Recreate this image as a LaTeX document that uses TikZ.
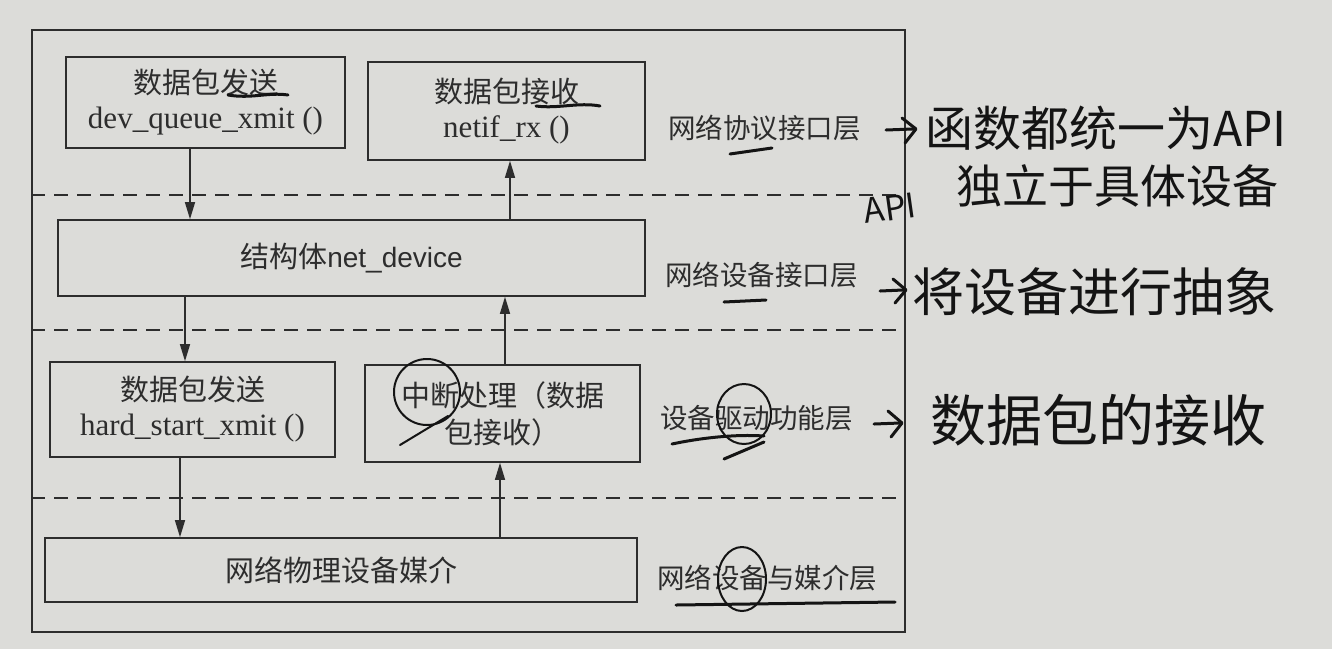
\documentclass[tikz,border=0pt]{standalone}
\usepackage{fontspec}
\setmainfont{Liberation Serif}
\newfontfamily\cjk{Noto Sans CJK SC}
\newfontfamily\latinsans{Liberation Sans}
\usetikzlibrary{arrows.meta}
\definecolor{paper}{RGB}{220,220,217}
\definecolor{ink}{RGB}{45,45,45}
\definecolor{pencol}{RGB}{20,20,20}
\begin{document}
\begin{tikzpicture}[x=1pt,y=-1pt,
  box/.style={draw=ink,line width=1.6pt,rectangle,inner sep=0pt,align=center,text=ink,
              font=\fontsize{31}{37}\selectfont},
  framebox/.style={draw=ink,line width=1.6pt,rectangle,inner sep=0pt},
  arr/.style={draw=ink,line width=1.4pt,-{Triangle[length=17pt,width=10pt]}},
  sep/.style={draw=ink,line width=1.6pt,dash pattern=on 14pt off 9pt},
  layer/.style={anchor=west,text=ink,inner sep=0pt,font=\cjk\fontsize{27.5}{32}\selectfont},
  pen/.style={draw=pencol,line width=3pt,line cap=round,line join=round},
  note/.style={text=pencol,inner sep=0pt,font=\cjk\fontsize{48}{56}\selectfont}]
\useasboundingbox (0,0) rectangle (1332,649);
\fill[paper] (0,0) rectangle (1332,649);

% outer frame
\node[framebox,minimum width=873,minimum height=602] (fr) at (468.5,331) {};

% protocol interface layer
\node[box,minimum width=279,minimum height=91] (tx1) at (205.5,102.5)
  {{\cjk\fontsize{29}{34}\selectfont 数据包发送}\\[-2pt]dev\_queue\_xmit ()};
\node[box,minimum width=277,minimum height=98] (rx1) at (506.5,111)
  {{\cjk\fontsize{29}{34}\selectfont 数据包接收}\\[-2pt]netif\_rx ()};

% device interface layer
\node[box,minimum width=587,minimum height=76] (nd) at (351.5,258)
  {{\cjk\fontsize{29}{34}\selectfont 结构体}\latinsans\fontsize{28}{32}\selectfont net\_device};

% driver layer
\node[box,minimum width=285,minimum height=95] (tx2) at (192.5,409.5)
  {{\cjk\fontsize{29}{34}\selectfont 数据包发送}\\[-2pt]hard\_start\_xmit ()};
\node[box,minimum width=275,minimum height=97,font=\cjk\fontsize{29}{37}\selectfont] (rx2) at (502.5,413.5)
  {中断处理（数据\\包接收）};

% media layer
\node[box,minimum width=592,minimum height=64,font=\cjk\fontsize{29}{34}\selectfont] (med) at (341,570)
  {网络物理设备媒介};

% layer separators
\coordinate (s1) at (0,195);
\coordinate (s2) at (0,330);
\coordinate (s3) at (0,498);
\draw[sep] (fr.west |- s1) -- (fr.east |- s1);
\draw[sep] (fr.west |- s2) -- (fr.east |- s2);
\draw[sep] (fr.west |- s3) -- (fr.east |- s3);

% data flow
\coordinate (d1) at (190,0);
\coordinate (d2) at (185,0);
\coordinate (d3) at (180,0);
\coordinate (u1) at (510,0);
\coordinate (u2) at (505,0);
\coordinate (u3) at (500,0);
\draw[arr] (tx1.south -| d1) -- (nd.north -| d1);
\draw[arr] (nd.south -| d2) -- (tx2.north -| d2);
\draw[arr] (tx2.south -| d3) -- (med.north -| d3);
\draw[arr] (nd.north -| u1) -- (rx1.south -| u1);
\draw[arr] (rx2.north -| u2) -- (nd.south -| u2);
\draw[arr] (med.north -| u3) -- (rx2.south -| u3);

% layer names
\node[layer] (L1) at (668,128) {网络协议接口层};
\node[layer] (L2) at (665,275) {网络设备接口层};
\node[layer] (L3) at (660,418) {设备驱动功能层};
\node[layer] (L4) at (657,578) {网络设备与媒介层};

% pen marks on the printed figure
\draw[pen] (228,95) .. controls (252,99) and (268,92) .. (288,95);
\draw[pen] (536,106) .. controls (558,109) and (578,102) .. (600,106);
\draw[pen] (730,154) -- (772,148);
\draw[pen] (724,302) -- (766,300);
\draw[pen] (672,444) .. controls (700,438) and (735,434) .. (764,436);
\draw[pen] (724,459) -- (764,442);
\draw[pen,line width=2pt] (744,414) ellipse (27 and 30);
\draw[pen,line width=2pt] (427,392) circle (33);
\draw[pen,line width=2pt] (448,416) -- (400,445);
\draw[pen,line width=2pt] (742,579) ellipse (24 and 32);
\draw[pen] (676,605) -- (895,602);

% handwritten notes
\draw[pen] (886,130) -- (913,129);
\draw[pen] (902,118) -- (916,129) -- (905,143);
\node[note,anchor=west] (n1) at (925,128) {函数都统一为API};
\node[note,font=\cjk\fontsize{46}{54}\selectfont] (n2) at (1117,186) {独立于具体设备};
\node[note,font=\cjk\fontsize{34}{40}\selectfont,rotate=8] (n3) at (890,208) {API};
\draw[pen] (880,291) -- (903,290);
\draw[pen] (893,279) -- (906,290) -- (895,303);
\node[note,anchor=west,font=\cjk\fontsize{52}{60}\selectfont] (n4) at (912,292) {将设备进行抽象};
\draw[pen] (874,424) -- (900,423);
\draw[pen] (888,411) -- (902,423) -- (891,437);
\node[note,anchor=west,font=\cjk\fontsize{56}{64}\selectfont] (n5) at (930,420) {数据包的接收};
\end{tikzpicture}
\end{document}
